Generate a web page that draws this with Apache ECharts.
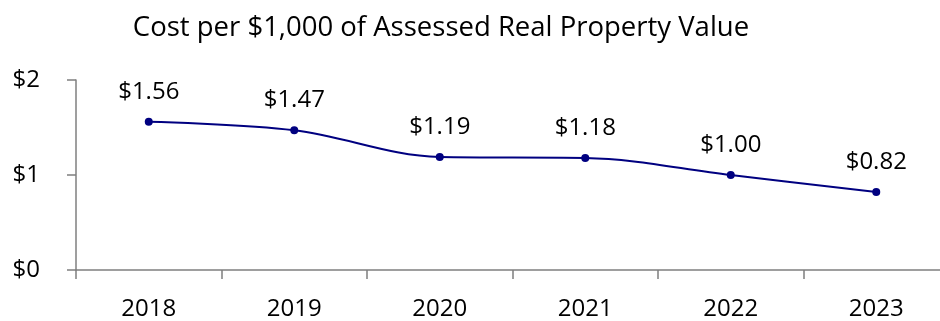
<!DOCTYPE html>
<html>
<head>
<meta charset="utf-8">
<script src="https://cdn.jsdelivr.net/npm/echarts@6/dist/echarts.min.js"></script>
<style>
  html, body { margin: 0; padding: 0; background: #fff; overflow: hidden; }
  #chart { width: 940px; height: 321px; }
</style>
</head>
<body>
<div id="chart"></div>
<script>
// Cost per $1,000 of assessed real property value, by year
const years = ['2018', '2019', '2020', '2021', '2022', '2023'];
const costs = [1.56, 1.47, 1.19, 1.18, 1.00, 0.82];
const yTicks = [0, 1, 2];

const FONT = '"Open Sans", "Noto Sans", sans-serif';
const AXIS_GRAY = '#7f7f7f';

const chart = echarts.init(document.getElementById('chart'), null, { renderer: 'canvas' });
chart.setOption({
  animation: false,
  backgroundColor: '#ffffff',
  title: {
    text: 'Cost per $1,000 of Assessed Real Property Value',
    left: 436,
    top: 9,
    textAlign: 'center',
    textStyle: { fontFamily: FONT, fontSize: 27.5, fontWeight: 'normal', color: '#000' }
  },
  // the last category band runs a little past the right edge of the canvas
  grid: {
    left: 76, width: 873, top: 80, height: 190,
    containLabel: false,
    outerBoundsMode: 'none'
  },
  xAxis: {
    type: 'category',
    data: years,
    boundaryGap: true,
    axisLine: { lineStyle: { color: AXIS_GRAY, width: 1.5 } },
    axisTick: { show: true, length: 9, lineStyle: { color: AXIS_GRAY, width: 1.5 } },
    axisLabel: { fontFamily: FONT, fontSize: 24, color: '#000', margin: 27 },
    splitLine: { show: false }
  },
  yAxis: {
    type: 'value',
    min: yTicks[0],
    max: yTicks[yTicks.length - 1],
    interval: 1,
    axisLine: { show: true, lineStyle: { color: AXIS_GRAY, width: 1.5 } },
    axisTick: { show: true, length: 9, lineStyle: { color: AXIS_GRAY, width: 1.5 } },
    axisLabel: {
      fontFamily: FONT, fontSize: 24, color: '#000', margin: 36,
      formatter: v => '$' + v
    },
    splitLine: { show: false }
  },
  series: [{
    type: 'line',
    data: costs,
    smooth: 0.35,
    symbol: 'circle',
    symbolSize: 8,
    lineStyle: { color: '#000080', width: 2 },
    itemStyle: { color: '#000080' },
    label: {
      show: true,
      position: 'top',
      distance: 14,
      fontFamily: FONT,
      fontSize: 24,
      color: '#000',
      formatter: p => '$' + p.value.toFixed(2)
    }
  }]
});
</script>
</body>
</html>
